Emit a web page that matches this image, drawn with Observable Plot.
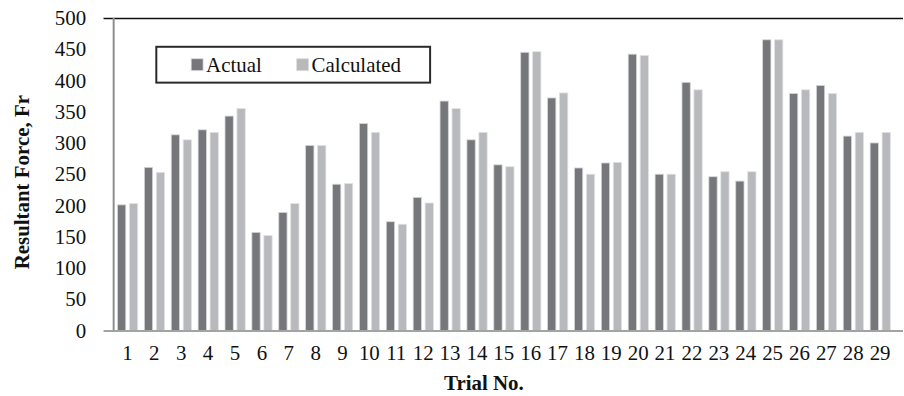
<!DOCTYPE html>
<html>
<head>
<meta charset="utf-8">
<script src="https://cdn.jsdelivr.net/npm/d3@7"></script>
<script src="https://cdn.jsdelivr.net/npm/@observablehq/plot@0.6"></script>
<style>
html, body { margin: 0; padding: 0; overflow: hidden; background: #fff; }
#chart svg text { font-size: 21px !important; font-family: 'Liberation Serif', 'Times New Roman', serif !important; }
</style>
</head>
<body>
<div id="chart"></div>
<script>
const trials = [1,2,3,4,5,6,7,8,9,10,11,12,13,14,15,16,17,18,19,20,21,22,23,24,25,26,27,28,29];
const actual = [201,261,313,321,343,157,189,296,234,331,174,213,367,305,265,445,372,260,268,442,250,397,246,239,465,379,392,311,300];
const calculated = [203,253,305,317,355,152,203,296,235,317,170,204,355,317,262,446,380,250,269,440,250,385,254,254,465,385,379,317,317];
const yTicks = [0,50,100,150,200,250,300,350,400,450,500];
const seriesNames = ["Actual", "Calculated"];

const data = trials.map((t, i) => ({trial: t, actual: actual[i], calculated: calculated[i]}));

const W = 908, H = 396, ML = 104, MR = 1, MT = 18, MB = 64;
const bw = (W - ML - MR) / trials.length;
const font = "'Liberation Serif', 'Times New Roman', serif";
const darkFill = "#76777b", lightFill = "#b8b9bc";

const chart = Plot.plot({
  width: W,
  height: H,
  marginLeft: ML,
  marginRight: MR,
  marginTop: MT,
  marginBottom: MB,
  style: {fontFamily: font, fontSize: "21px", color: "#111", background: "#fff"},
  x: {type: "band", domain: trials, padding: 0, label: null, tickSize: 0, tickPadding: 14},
  y: {domain: [0, 500], ticks: yTicks, label: null, tickSize: 0, tickPadding: 18},
  marks: [
    Plot.barY(data, {x: "trial", y: "actual", fill: darkFill, stroke: "#d6d6d8", strokeWidth: 0.8, insetLeft: 4, insetRight: bw - 13}),
    Plot.barY(data, {x: "trial", y: "calculated", fill: lightFill, stroke: "#e2e2e4", strokeWidth: 0.8, insetLeft: 16, insetRight: bw - 25}),
    Plot.ruleY([0], {stroke: "#a3a3a3", strokeWidth: 2}),
    Plot.ruleY([500], {stroke: "#111", strokeWidth: 1.5}),
    Plot.ruleX([trials[0]], {dx: -bw / 2, stroke: "#8e8e8e", strokeWidth: 2})
  ]
});

const svg = d3.select(chart);
svg.style("overflow", "visible");
svg.selectAll("text").attr("fill", "#111");

// Axis titles
svg.append("text")
  .attr("transform", "translate(29,183) rotate(-90)")
  .attr("text-anchor", "middle")
  .attr("font-family", font).attr("font-size", 21).attr("font-weight", "bold").attr("fill", "#111")
  .text("Resultant Force, Fr");
svg.append("text")
  .attr("x", 486).attr("y", 392)
  .attr("text-anchor", "middle")
  .attr("font-family", font).attr("font-size", 21).attr("font-weight", "bold").attr("fill", "#111")
  .text("Trial No.");

// Legend
const lg = svg.append("g");
lg.append("rect").attr("x", 157).attr("y", 47).attr("width", 275).attr("height", 36)
  .attr("fill", "#fff").attr("stroke", "#2a2a2a").attr("stroke-width", 2);
const items = [{name: seriesNames[0], fill: darkFill, x: 192}, {name: seriesNames[1], fill: lightFill, x: 298}];
items.forEach(it => {
  lg.append("rect").attr("x", it.x).attr("y", 59).attr("width", 12).attr("height", 12)
    .attr("fill", it.fill).attr("stroke", "#ddd").attr("stroke-width", 0.8);
  lg.append("text").attr("x", it.x + 15).attr("y", 72)
    .attr("text-anchor", "start")
    .attr("font-family", font).attr("font-size", 21).attr("fill", "#111")
    .text(it.name);
});

document.getElementById("chart").appendChild(chart);
</script>
</body>
</html>
